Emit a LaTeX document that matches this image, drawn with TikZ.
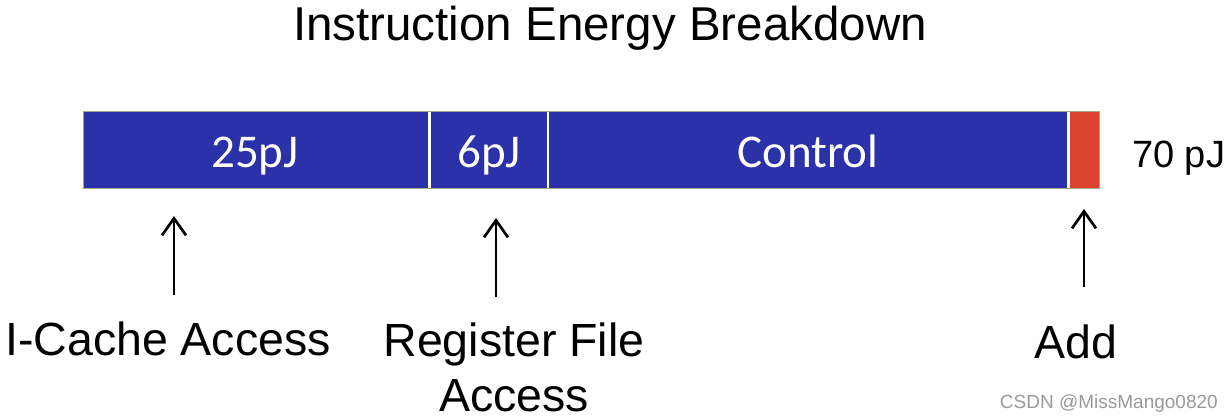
\documentclass[tikz,border=0pt]{standalone}
\usepackage{fontspec}
\setmainfont{Liberation Sans}
\newfontfamily\barfont{Carlito}
\usetikzlibrary{arrows.meta}
\definecolor{barblue}{HTML}{2A31A9}
\definecolor{barred}{HTML}{DB4431}
\definecolor{baredge}{HTML}{A7A98A}
\tikzset{
  seg/.style={inner sep=0pt, outer sep=0pt, minimum height=77pt, anchor=north west},
  bartext/.style={text=white, font=\barfont\fontsize{47}{50}\selectfont, anchor=base, inner sep=0pt},
  lbl/.style={font=\fontsize{46.5}{55}\selectfont, anchor=base, inner sep=0pt},
  uparrow/.style={line width=2.7pt, -{Straight Barb[length=17pt,width=24pt]}},
}
\begin{document}
\begin{tikzpicture}[x=1pt,y=-1pt]
\useasboundingbox (0,0) rectangle (1232,420);
\node[lbl, font=\fontsize{47.5}{55}\selectfont] (title) at (610,41) {Instruction Energy Breakdown};
% bar segments
\node[seg, fill=barblue, minimum width=345pt] (s1) at (83,111) {};
\node[seg, fill=barblue, minimum width=116pt] (s2) at (431,111) {};
\node[seg, fill=barblue, minimum width=518pt] (s3) at (549,111) {};
\node[seg, fill=barred, minimum width=29pt] (s4) at (1070,111) {};
\draw[baredge, line width=1pt] (s1.north west) -- (s4.north east) -- (s4.south east) -- (s1.south west) -- cycle;
\node[bartext] (t1) at (255,167) {25pJ};
\node[bartext] (t2) at (489,167) {6pJ};
\node[bartext] (t3) at (808,167) {Control};
\node[lbl, font=\fontsize{38}{44}\selectfont, anchor=base west] (total) at (1132,167) {70 pJ};
% arrows
\coordinate (a1b) at (174,295); \coordinate (a1t) at (174,216);
\coordinate (a2b) at (496,297); \coordinate (a2t) at (496,218);
\coordinate (a3b) at (1084,287); \coordinate (a3t) at (1084,209);
\draw[uparrow] (a1b) -- (a1t);
\draw[uparrow] (a2b) -- (a2t);
\draw[uparrow] (a3b) -- (a3t);
% labels
\node[lbl] (l1) at (168,355) {I-Cache Access};
\node[lbl, align=center, anchor=north] (l2) at (514,322.5) {Register File\\Access};
\node[lbl] (l3) at (1076,358) {Add};
\node[font=\fontsize{19}{22}\selectfont, text=black!40, anchor=base east, inner sep=0pt] (wm) at (1218,408) {CSDN @MissMango0820};
\end{tikzpicture}
\end{document}
